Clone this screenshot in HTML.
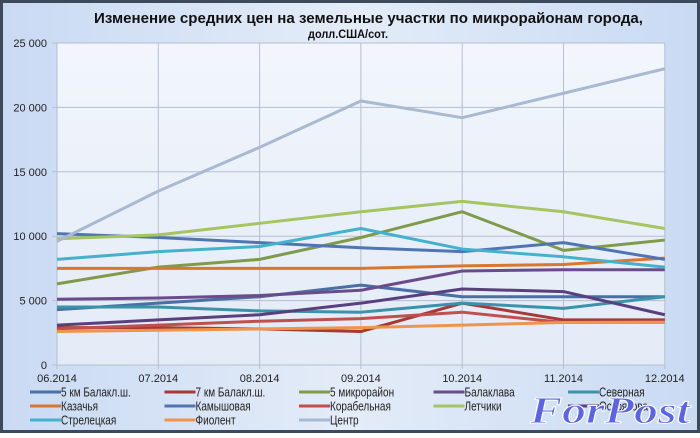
<!DOCTYPE html>
<html><head><meta charset="utf-8"><style>
body{margin:0;width:700px;height:433px;overflow:hidden;font-family:"Liberation Sans",sans-serif}
</style></head><body>
<svg id="s" width="700" height="433" xmlns="http://www.w3.org/2000/svg" font-family="Liberation Sans, sans-serif">
<defs>
<linearGradient id="bg" x1="0" y1="0" x2="1" y2="0">
<stop offset="0" stop-color="#c9daf3"/><stop offset="0.5" stop-color="#e4ecf8"/><stop offset="1" stop-color="#c9daf3"/></linearGradient>
<linearGradient id="pa" x1="0" y1="0" x2="0" y2="1">
<stop offset="0" stop-color="#f2f6fc"/><stop offset="1" stop-color="#e3ebf7"/></linearGradient>
</defs>
<rect x="0" y="0" width="700" height="433" fill="#3d4a5c"/>
<rect x="3" y="3" width="694" height="427" fill="url(#bg)"/>
<rect x="57" y="43" width="608" height="322" fill="url(#pa)"/>
<g id="grid" stroke="#b4bfcf" stroke-width="1"></g>
<text x="94" y="23" font-size="14.5" font-weight="bold" textLength="549" lengthAdjust="spacingAndGlyphs" fill="#111">Изменение средних цен на земельные участки по микрорайонам города,</text>
<text x="308" y="38" font-size="12" font-weight="bold" textLength="80" lengthAdjust="spacingAndGlyphs" fill="#111">долл.США/сот.</text>
<g id="lab" font-size="11" fill="#222"></g>
<g id="ser" fill="none" stroke-width="3" stroke-linejoin="round"></g>
<g id="leg" font-size="12.5" fill="#222"></g>
<text x="530" y="423" font-size="38" font-weight="bold" font-style="italic" font-family="Liberation Serif, serif" textLength="160" lengthAdjust="spacingAndGlyphs" fill="#5b63e8" stroke="#fff" stroke-width="1">ForPost</text>
</svg>
<script>
const NS="http://www.w3.org/2000/svg";
function el(p,t,a,txt){const e=document.createElementNS(NS,t);for(const k in a)e.setAttribute(k,a[k]);if(txt)e.textContent=txt;document.getElementById(p).appendChild(e);return e;}
const X=i=>57+i*101.3, Y=v=>365-v*0.01288;
for(let v=0;v<=25000;v+=5000){el('grid','line',{x1:52,x2:665,y1:Y(v),y2:Y(v)});
el('lab','text',{x:47,y:Y(v)+4,'text-anchor':'end'},v?(v/1000)+' 000':'0');}
const M=['06','07','08','09','10','11','12'];
for(let i=0;i<7;i++){el('grid','line',{x1:X(i),x2:X(i),y1:43,y2:369});
el('lab','text',{x:X(i),y:382,'text-anchor':'middle'},M[i]+'.2014');}
const S=[
["5 км Балакл.ш.","#4a6fa5",[4300,4800,5300,6200,5300,5300,5300]],
["7 км Балакл.ш.","#a63a37",[2900,2900,2800,2600,4800,3500,3500]],
["5 микрорайон","#7f9a48",[6300,7600,8200,9900,11900,8900,9700]],
["Балаклава","#6a4c8a",[5100,5200,5400,5800,7300,7400,7400]],
["Северная","#3a93a8",[4500,4500,4200,4100,4800,4400,5300]],
["Казачья","#d9772e",[7500,7500,7500,7500,7700,7800,8300]],
["Камышовая","#4f76b0",[10200,9900,9500,9100,8800,9500,8200]],
["Корабельная","#c0504d",[2800,3100,3400,3600,4100,3300,3400]],
["Летчики","#a6c462",[9800,10100,11000,11900,12700,11900,10600]],
["Острякова","#5a3f7f",[3100,3500,3900,4800,5900,5700,3900]],
["Стрелецкая","#44b2cc",[8200,8800,9200,10600,9000,8400,7600]],
["Фиолент","#f0944d",[2600,2700,2800,2900,3100,3300,3300]],
["Центр","#a9b9d2",[9600,13500,16900,20500,19200,21100,23000]]];
S.forEach((s,k)=>{el('ser','polyline',{stroke:s[1],points:s[2].map((v,i)=>X(i)+','+Y(v)).join(' ')});
const c=k%5,r=Math.floor(k/5),lx=30+c*134.5,ly=392+r*14;
el('leg','line',{x1:lx,x2:lx+31,y1:ly,y2:ly,stroke:s[1],'stroke-width':3});
const t=el('leg','text',{x:lx+31,y:ly+4.5},s[0]);
const w=t.getComputedTextLength();t.setAttribute('textLength',w*0.8);t.setAttribute('lengthAdjust','spacingAndGlyphs');});
</script>
</body></html>
